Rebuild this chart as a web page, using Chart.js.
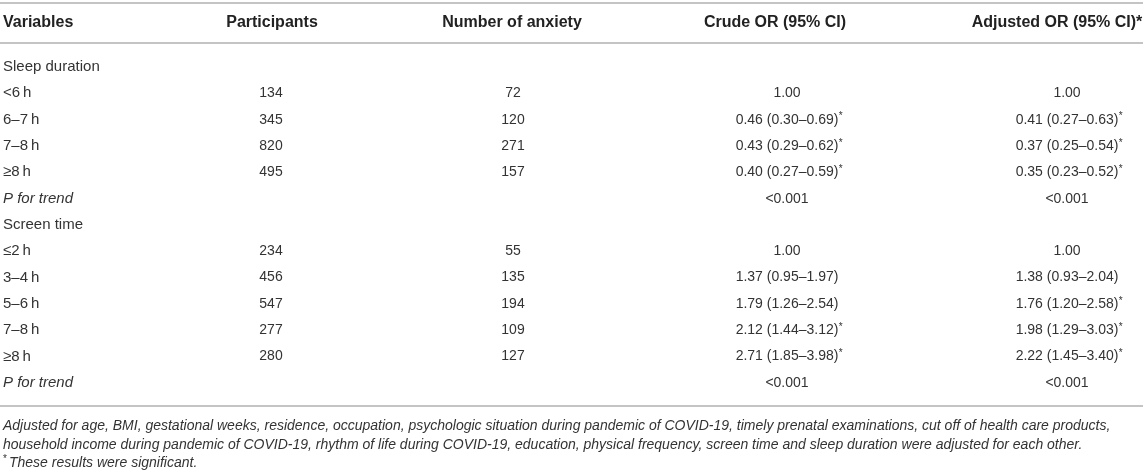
<!DOCTYPE html>
<html>
<head>
<meta charset="utf-8">
<title>Sleep duration, screen time and anxiety</title>
<script src="https://cdn.jsdelivr.net/npm/chart.js@4.4.0/dist/chart.umd.min.js"></script>
<style>
    html, body { margin: 0; padding: 0; background: #fff; }
    #wrap { width: 1143px; height: 472px; }
</style>
</head>
<body>
<div id="wrap"><canvas id="tableChart" width="1143" height="472"></canvas></div>
<script>
// --- table data ---
const headers = ['Variables', 'Participants', 'Number of anxiety', 'Crude OR (95% CI)', 'Adjusted OR (95% CI)*'];
const rowLabels = ['Sleep duration', '<6\u2009h', '6–7\u2009h', '7–8\u2009h', '≥8\u2009h', 'P for trend',
                   'Screen time', '≤2\u2009h', '3–4\u2009h', '5–6\u2009h', '7–8\u2009h', '≥8\u2009h', 'P for trend'];
const trendRows = [5, 12];

const participants = [null, 134, 345, 820, 495, null, null, 234, 456, 547, 277, 280, null];
const anxietyCases = [null, 72, 120, 271, 157, null, null, 55, 135, 194, 109, 127, null];

const crudeOR   = [null, 1.00, 0.46, 0.43, 0.40, null, null, 1.00, 1.37, 1.79, 2.12, 2.71, null];
const crudeLow  = [null, null, 0.30, 0.29, 0.27, null, null, null, 0.95, 1.26, 1.44, 1.85, null];
const crudeHigh = [null, null, 0.69, 0.62, 0.59, null, null, null, 1.97, 2.54, 3.12, 3.98, null];
const crudeSig  = [false, false, true, true, true, false, false, false, false, false, true, true, false];

const adjOR   = [null, 1.00, 0.41, 0.37, 0.35, null, null, 1.00, 1.38, 1.76, 1.98, 2.22, null];
const adjLow  = [null, null, 0.27, 0.25, 0.23, null, null, null, 0.93, 1.20, 1.29, 1.45, null];
const adjHigh = [null, null, 0.63, 0.54, 0.52, null, null, null, 2.04, 2.58, 3.03, 3.40, null];
const adjSig  = [false, false, true, true, true, false, false, false, false, true, true, true, false];

const pTrendCrude = ['<0.001', '<0.001'];
const pTrendAdj = ['<0.001', '<0.001'];

const footnotes = [
    'Adjusted for age, BMI, gestational weeks, residence, occupation, psychologic situation during pandemic of COVID-19, timely prenatal examinations, cut off of health care products,',
    'household income during pandemic of COVID-19, rhythm of life during COVID-19, education, physical frequency, screen time and sleep duration were adjusted for each other.'
];
const sigNote = 'These results were significant.';

// --- layout (canvas px) ---
const COL_X = [3, 271, 513, 787, 1067];      // cell anchor per column
const HEAD_X = [3, 272, 512, 775, 1057];     // header anchor per column
const RULES_Y = [3, 43, 406];
const HEAD_Y = 23;
const NOTE_Y = [426, 445, 463];
const TEXT = '#333';
const RULE = '#c4c4c4';
const FONT = '"Liberation Sans", Arial, Helvetica, sans-serif';

function fmtOR(or, lo, hi) {
    if (or === null) return null;
    if (lo === null) return or.toFixed(2);
    return or.toFixed(2) + ' (' + lo.toFixed(2) + '–' + hi.toFixed(2) + ')';
}

function buildCells(col, texts, stars) {
    const pts = [];
    texts.forEach((t, i) => {
        if (t !== null && t !== undefined) {
            pts.push({ x: COL_X[col], y: i, text: String(t), star: stars ? stars[i] : false });
        }
    });
    return pts;
}

const crudeText = crudeOR.map((v, i) => fmtOR(v, crudeLow[i], crudeHigh[i]));
const adjText = adjOR.map((v, i) => fmtOR(v, adjLow[i], adjHigh[i]));
trendRows.forEach((r, k) => { crudeText[r] = pTrendCrude[k]; adjText[r] = pTrendAdj[k]; });

const tablePlugin = {
    id: 'tableText',
    afterDraw(chart) {
        const ctx = chart.ctx;
        const xs = chart.scales.x;
        const ys = chart.scales.y;
        ctx.save();

        // rules
        ctx.strokeStyle = RULE;
        ctx.lineWidth = 2;
        RULES_Y.forEach(y => {
            ctx.beginPath();
            ctx.moveTo(xs.left, y);
            ctx.lineTo(xs.right, y);
            ctx.stroke();
        });

        // header
        ctx.fillStyle = '#222';
        ctx.textBaseline = 'middle';
        ctx.font = 'bold 16px ' + FONT;
        headers.forEach((h, i) => {
            ctx.textAlign = i === 0 ? 'left' : 'center';
            ctx.fillText(h, xs.getPixelForValue(HEAD_X[i]), HEAD_Y);
        });

        // row labels
        ctx.fillStyle = TEXT;
        ctx.textAlign = 'left';
        rowLabels.forEach((lab, i) => {
            ctx.font = (trendRows.includes(i) ? 'italic ' : '') + '15px ' + FONT;
            ctx.fillText(lab, xs.getPixelForValue(COL_X[0]), ys.getPixelForValue(i));
        });

        // cells, one dataset per column
        chart.data.datasets.forEach((ds, d) => {
            const meta = chart.getDatasetMeta(d);
            meta.data.forEach((el, j) => {
                const cell = ds.data[j];
                ctx.font = '14px ' + FONT;
                const w = ctx.measureText(cell.text).width;
                ctx.textAlign = 'left';
                ctx.fillText(cell.text, el.x - w / 2, el.y);
                if (cell.star) {
                    ctx.font = '10px ' + FONT;
                    ctx.fillText('*', el.x + w / 2 + 0.5, el.y - 3);
                }
            });
        });

        // footnotes
        ctx.font = 'italic 14px ' + FONT;
        ctx.textAlign = 'left';
        footnotes.forEach((line, i) => ctx.fillText(line, 3, NOTE_Y[i]));
        ctx.font = '10px ' + FONT;
        ctx.fillText('*', 3, NOTE_Y[2] - 4);
        ctx.font = 'italic 14px ' + FONT;
        ctx.fillText(sigNote, 9, NOTE_Y[2]);

        ctx.restore();
    }
};

const band = 26.33;
const firstRowY = 67;

new Chart(document.getElementById('tableChart'), {
    type: 'scatter',
    data: {
        datasets: [
            { label: headers[1], data: buildCells(1, participants) },
            { label: headers[2], data: buildCells(2, anxietyCases) },
            { label: headers[3], data: buildCells(3, crudeText, crudeSig) },
            { label: headers[4], data: buildCells(4, adjText, adjSig) }
        ]
    },
    options: {
        responsive: false,
        animation: false,
        events: [],
        layout: {
            padding: {
                top: firstRowY - band / 2,
                bottom: 472 - (firstRowY + band * (rowLabels.length - 0.5)),
                left: 0,
                right: 0
            }
        },
        elements: { point: { radius: 0, hoverRadius: 0 } },
        plugins: {
            legend: { display: false },
            tooltip: { enabled: false }
        },
        scales: {
            x: { type: 'linear', min: 0, max: 1143, display: false },
            y: { type: 'linear', min: -0.5, max: rowLabels.length - 0.5, reverse: true, display: false }
        }
    },
    plugins: [tablePlugin]
});
</script>
</body>
</html>
